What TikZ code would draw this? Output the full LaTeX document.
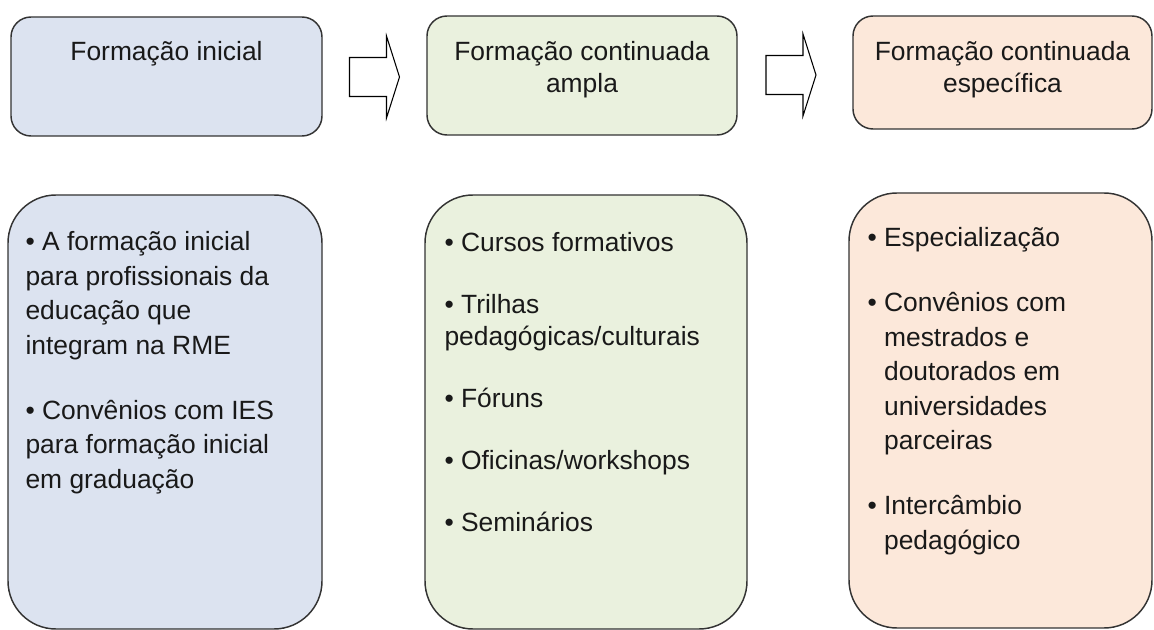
\documentclass[tikz,border=0pt]{standalone}
\usepackage{fontspec}
\setmainfont{Liberation Sans}
\usetikzlibrary{positioning,calc}
\colorlet{penColor}{black!80}
\definecolor{fillIni}{RGB}{220,227,240}
\definecolor{fillAmpla}{RGB}{234,241,222}
\definecolor{fillEsp}{RGB}{252,232,218}
\tikzset{
  box/.style={draw=penColor, line width=1.1pt, rounded corners=15pt, inner sep=0pt},
  listbox/.style={box, rounded corners=36pt},
  boxtext/.style={inner sep=0pt, font=\fontsize{19.8}{25.9}\selectfont, text=black!90},
  tighttext/.style={boxtext, font=\fontsize{19.8}{24}\selectfont},
  blockarrow/.style={draw=black, line width=0.8pt, fill=white, line join=miter}
}
\newcommand{\hang}{\hphantom{\textbullet\ }}

\begin{document}
\begin{tikzpicture}[x=0.75pt,y=-0.75pt]
\useasboundingbox (0,0) rectangle (1154,630);
% top row
\node[box, fill=fillIni, minimum width=233.25pt, minimum height=89.25pt] (ini) at (166.5,76.5) {};
\node[box, fill=fillAmpla, minimum width=232.5pt, minimum height=89.25pt] (ampla) at (582,75.5) {};
\node[box, fill=fillEsp, minimum width=224.25pt, minimum height=84.75pt] (esp) at (1002.5,72.5) {};
\node[tighttext, align=center, below=18.75pt of ini.north] (iniT) {Formação inicial};
\node[tighttext, align=center, below=19.5pt of ampla.north] (amplaT) {Formação continuada\\ampla};
\node[tighttext, align=center, below=19.5pt of esp.north] (espT) {Formação continuada\\específica};
% block arrows
\coordinate (a1) at ($(ini.east)!0.5!(ampla.west)+(0,1)$);
\coordinate (a2) at ($(ampla.east)!0.5!(esp.west)+(-4,1)$);
\foreach \c in {a1,a2}
  \draw[blockarrow, shift={(\c)}] (-25,-19.5) -- (12,-19.5) -- (12,-41) -- (25,0)
    -- (12,41) -- (12,19.5) -- (-25,19.5) -- cycle;
% bottom row
\node[listbox, fill=fillIni, minimum width=235.5pt, minimum height=325.5pt] (iniL) at (165,412) {};
\node[listbox, fill=fillAmpla, minimum width=241.5pt, minimum height=325.5pt] (amplaL) at (586,412) {};
\node[listbox, fill=fillEsp, minimum width=227.25pt, minimum height=326.25pt] (espL) at (1000.5,410.5) {};
\node[boxtext, align=left, below right=27.75pt and 13.5pt of iniL.north west] (iniLT)
  {\textbullet\ A formação inicial\\para profissionais da\\educação que\\integram na RME\\[22.85pt]
   \textbullet\ Convênios com IES\\para formação inicial\\em graduação};
\node[tighttext, align=left, below right=28.5pt and 15pt of amplaL.north west] (amplaLT)
  {\textbullet\ Cursos formativos\\[22.5pt]\textbullet\ Trilhas\\pedagógicas/culturais\\[22.5pt]
   \textbullet\ Fóruns\\[22.5pt]\textbullet\ Oficinas/workshops\\[22.5pt]\textbullet\ Seminários};
\node[boxtext, align=left, below right=26.25pt and 14.25pt of espL.north west] (espLT)
  {\textbullet\ Especialização\\[22.85pt]\textbullet\ Convênios com\\\hang mestrados e\\\hang doutorados em\\
   \hang universidades\\\hang parceiras\\[22.85pt]\textbullet\ Intercâmbio\\\hang pedagógico};
\end{tikzpicture}
\end{document}
